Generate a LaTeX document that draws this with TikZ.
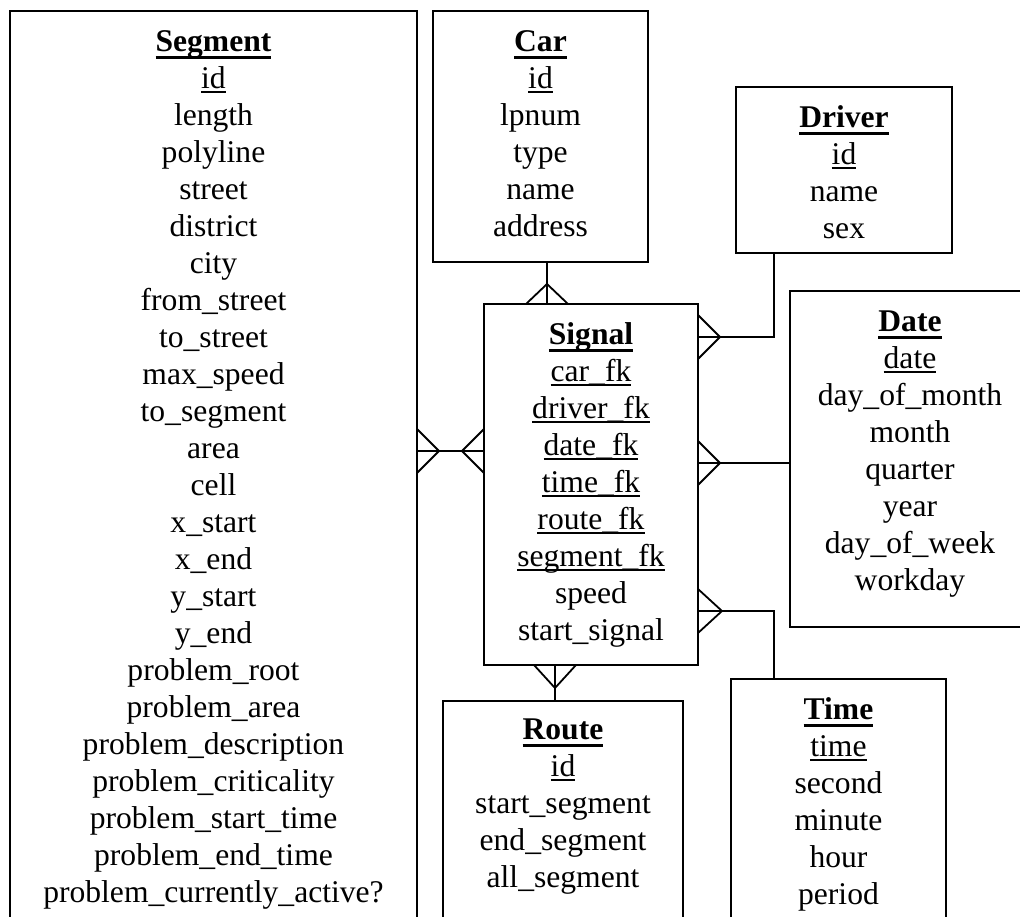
\documentclass[tikz,border=0pt]{standalone}
\usepackage{fontspec}
\setmainfont{Liberation Serif}
\usetikzlibrary{calc}

% entity name: bold with a heavy rule under it
\newcommand\enttitle[1]{\leavevmode\setbox0\hbox{\bfseries #1}\rlap{\rule[-0.22em]{\wd0}{0.09em}}\rule{0pt}{0.75em}\box0}
% key attribute: thin rule under it
\newcommand\keyattr[1]{\leavevmode\setbox0\hbox{#1}\rlap{\rule[-0.125em]{\wd0}{0.05em}}\box0}
% crow's foot on a horizontal edge (toes spread along x), apex at distance #2
\newcommand\crowv[2]{\draw[conn] ($(#1)+(-21,0)$) -- ($(#1)+(0,#2)$) -- ($(#1)+(21,0)$);}
% crow's foot on a vertical edge (toes spread along y), apex at distance #2
\newcommand\crowh[2]{\draw[conn] ($(#1)+(0,-22)$) -- ($(#1)+(#2,0)$) -- ($(#1)+(0,22)$);}

\tikzset{
  entity/.style={draw, line width=1.8pt, rectangle, inner sep=0pt, outer sep=0pt, anchor=north west},
  attrs/.style={anchor=north, align=center, inner sep=0pt, outer sep=0pt,
                font=\fontsize{31.6}{37}\selectfont},
  conn/.style={line width=1.8pt},
}

\begin{document}
\begin{tikzpicture}[x=1pt, y=-1pt]
\useasboundingbox (0,0) rectangle (1020,916);
\fill[white] (0,0) rectangle (1020,916);
\clip (0,0) rectangle (1020,916);

% entity boxes
\node[entity, minimum width=407pt, minimum height=919pt] (segment) at (10,11) {};
\node[entity, minimum width=215pt, minimum height=251pt] (car)     at (433,11) {};
\node[entity, minimum width=216pt, minimum height=166pt] (driver)  at (736,87) {};
\node[entity, minimum width=214pt, minimum height=361pt] (signal)  at (484,304) {};
\node[entity, minimum width=240pt, minimum height=336pt] (date)    at (790,291) {};
\node[entity, minimum width=240pt, minimum height=229pt] (route)   at (443,701) {};
\node[entity, minimum width=215pt, minimum height=251pt] (time)    at (731,679) {};

% attribute lists
\node[attrs] (segmenttext) at ($(segment.north)+(0,17)$) {\enttitle{Segment}\\\keyattr{id}\\length\\polyline\\street\\district\\city\\from\_street\\to\_street\\max\_speed\\to\_segment\\area\\cell\\x\_start\\x\_end\\y\_start\\y\_end\\problem\_root\\problem\_area\\problem\_description\\problem\_criticality\\problem\_start\_time\\problem\_end\_time\\problem\_currently\_active?};
\node[attrs] (cartext) at ($(car.north)+(0,17)$) {\enttitle{Car}\\\keyattr{id}\\lpnum\\type\\name\\address};
\node[attrs] (drivertext) at ($(driver.north)+(0,17)$) {\enttitle{Driver}\\\keyattr{id}\\name\\sex};
\node[attrs] (signaltext) at ($(signal.north)+(0,17)$) {\enttitle{Signal}\\\keyattr{car\_fk}\\\keyattr{driver\_fk}\\\keyattr{date\_fk}\\\keyattr{time\_fk}\\\keyattr{route\_fk}\\\keyattr{segment\_fk}\\speed\\start\_signal};
\node[attrs] (datetext) at ($(date.north)+(0,17)$) {\enttitle{Date}\\\keyattr{date}\\day\_of\_month\\month\\quarter\\year\\day\_of\_week\\workday};
\node[attrs] (routetext) at ($(route.north)+(0,15)$) {\enttitle{Route}\\\keyattr{id}\\start\_segment\\end\_segment\\all\_segment};
\node[attrs] (timetext) at ($(time.north)+(0,17)$) {\enttitle{Time}\\\keyattr{time}\\second\\minute\\hour\\period};

% Car -- Signal
\path (car.south west) ++(114,0) coordinate (carport);
\coordinate (sigcar) at (carport |- signal.north);
\draw[conn] (carport) -- (sigcar);
\crowv{sigcar}{-20}

% Driver -- Signal
\path (driver.south west) ++(38,0) coordinate (drvport);
\path (signal.north east) ++(0,33) coordinate (sigdrv);
\draw[conn] (drvport) |- (sigdrv);
\crowh{sigdrv}{22}

% Date -- Signal
\path (signal.north east) ++(0,159) coordinate (sigdate);
\draw[conn] (sigdate) -- (sigdate -| date.west);
\crowh{sigdate}{22}

% Time -- Signal
\path (signal.north east) ++(0,307) coordinate (sigtime);
\path (time.north west) ++(43,0) coordinate (timeport);
\draw[conn] (sigtime) -| (timeport);
\crowh{sigtime}{24}

% Route -- Signal
\path (route.north west) ++(112,0) coordinate (routeport);
\coordinate (sigroute) at (routeport |- signal.south);
\draw[conn] (routeport) -- (sigroute);
\crowv{sigroute}{23}

% Segment -- Signal (many on both ends)
\path (signal.north west) ++(0,147) coordinate (sigseg);
\coordinate (segsig) at (sigseg -| segment.east);
\draw[conn] (segsig) -- (sigseg);
\crowh{sigseg}{-22}
\crowh{segsig}{22}
\end{tikzpicture}
\end{document}
